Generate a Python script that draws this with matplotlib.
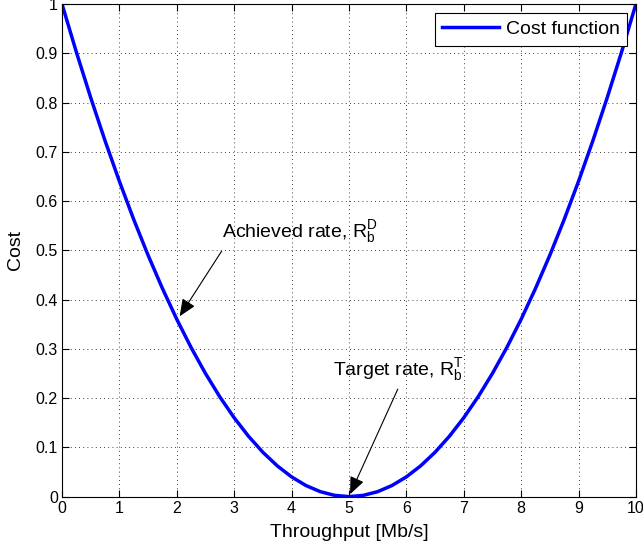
import matplotlib
matplotlib.use("Agg")
import matplotlib.pyplot as plt

throughput = [0, 0.25, 0.5, 0.75, 1, 1.25, 1.5, 1.75, 2, 2.25, 2.5, 2.75, 3, 3.25, 3.5, 3.75, 4,
              4.25, 4.5, 4.75, 5, 5.25, 5.5, 5.75, 6, 6.25, 6.5, 6.75, 7, 7.25, 7.5, 7.75, 8,
              8.25, 8.5, 8.75, 9, 9.25, 9.5, 9.75, 10]
cost = [1.0, 0.9025, 0.81, 0.7225, 0.64, 0.5625, 0.49, 0.4225, 0.36, 0.3025, 0.25, 0.2025,
        0.16, 0.1225, 0.09, 0.0625, 0.04, 0.0225, 0.01, 0.0025, 0.0,
        0.0025, 0.01, 0.0225, 0.04, 0.0625, 0.09, 0.1225, 0.16, 0.2025, 0.25, 0.3025,
        0.36, 0.4225, 0.49, 0.5625, 0.64, 0.7225, 0.81, 0.9025, 1.0]
xticks = [0, 1, 2, 3, 4, 5, 6, 7, 8, 9, 10]
yticks = [0, 0.1, 0.2, 0.3, 0.4, 0.5, 0.6, 0.7, 0.8, 0.9, 1]
ytick_labels = ["0", "0.1", "0.2", "0.3", "0.4", "0.5", "0.6", "0.7", "0.8", "0.9", "1"]

plt.rcParams['font.family'] = ['Liberation Sans', 'DejaVu Sans']
plt.rcParams['mathtext.fontset'] = 'custom'
plt.rcParams['mathtext.rm'] = 'Liberation Sans'
plt.rcParams['mathtext.it'] = 'Liberation Sans'

fig = plt.figure(figsize=(6.43, 5.53), dpi=100)
ax = fig.add_axes([0.0964, 0.102, 0.8926, 0.8908])

ax.plot(throughput, cost, color=(0, 0, 1), lw=2.5, label='Cost function')
ax.set_xlim(0, 10)
ax.set_ylim(0, 1)
ax.set_xticks(xticks)
ax.set_yticks(yticks)
ax.set_yticklabels(ytick_labels)
ax.tick_params(direction='in', top=True, right=True, labelsize=11.5, length=5, width=0.8, pad=3)
ax.grid(True, color='k', linestyle=(0, (1, 4)), lw=0.6)
for s in ax.spines.values():
    s.set_linewidth(0.8)

ax.set_xlabel('Throughput [Mb/s]', fontsize=14, labelpad=6)
ax.set_ylabel('Cost', fontsize=14, labelpad=8)

arrow = dict(arrowstyle='-|>,head_length=0.7,head_width=0.3', color='k', lw=0.8,
             mutation_scale=15, shrinkA=0, shrinkB=0)

ax.text(2.78, 0.527, r'Achieved rate, $\mathregular{R_b^D}$', fontsize=14, ha='left', va='baseline')
ax.annotate('', xy=(2.05, 0.366), xytext=(2.78, 0.498), arrowprops=arrow)

ax.text(4.72, 0.247, r'Target rate, $\mathregular{R_b^T}$', fontsize=14, ha='left', va='baseline')
ax.annotate('', xy=(5.02, 0.005), xytext=(5.85, 0.218), arrowprops=arrow)

leg = ax.legend(loc='upper right', fontsize=14, fancybox=False, edgecolor='k',
                framealpha=1, borderaxespad=0.45, handlelength=2.9, handletextpad=0.35,
                borderpad=0.4)
leg.get_frame().set_linewidth(0.8)

fig.savefig('out.png', dpi=100)
